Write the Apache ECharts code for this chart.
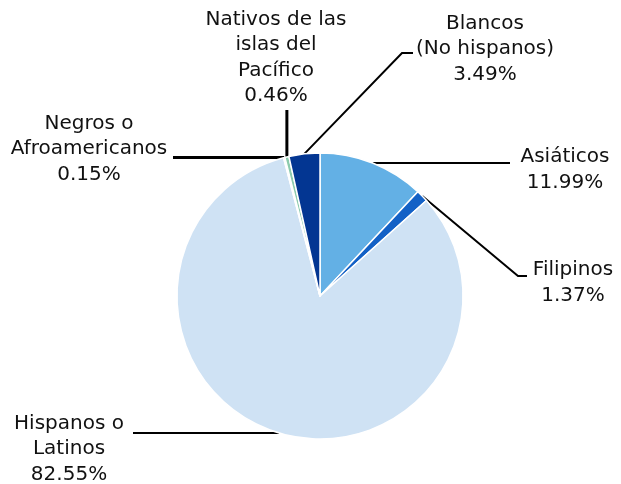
<!DOCTYPE html>
<html>
<head>
<meta charset="utf-8">
<script src="https://cdn.jsdelivr.net/npm/echarts@6/dist/echarts.min.js"></script>
<style>
  html, body { margin: 0; padding: 0; background: #fff; }
  #chart { width: 621px; height: 484px; }
</style>
</head>
<body>
<div id="chart"></div>
<script>
// grupos (en orden, empezando arriba y en sentido horario)
var categorias = [
  'Asiáticos',
  'Filipinos',
  'Hispanos o\nLatinos',
  'Negros o\nAfroamericanos',
  'Nativos de las\nislas del\nPacífico',
  'Blancos\n(No hispanos)'
];
var porcentajes = [11.99, 1.37, 82.55, 0.15, 0.46, 3.49];
var colores = ['#63b0e5', '#1361c6', '#cfe2f4', '#b9dccb', '#8ccbad', '#033692'];

// posicion de cada etiqueta y codo de su linea guia (null = seguir el borde)
var etiquetas = [
  { x: 565, y: 170, codo: [440, null], fin: [510, null], ancho: 2 },
  { x: 573, y: 283, codo: [518, 276], fin: [527, 276], ancho: 2 },
  { x: 69,  y: 449, codo: [200, null], fin: [133, null], ancho: 2 },
  { x: 89,  y: 149, codo: [230, null], fin: [173, null], ancho: 3 },
  { x: 276, y: 58,  codo: [null, 130], fin: [null, 110], ancho: 3 },
  { x: 485, y: 49,  codo: [402, 53],  fin: [413, 53], ancho: 2 }
];

var myChart = echarts.init(document.getElementById('chart'));

myChart.setOption({
  animation: false,
  series: [{
    type: 'pie',
    center: [320, 296],
    radius: 143,
    startAngle: 90,
    clockwise: true,
    avoidLabelOverlap: false,
    itemStyle: {
      borderColor: '#fff',
      borderWidth: 1.5
    },
    label: {
      show: true,
      position: 'outside',
      fontFamily: 'DejaVu Sans',
      fontSize: 20,
      lineHeight: 25.5,
      color: '#111',
      align: 'center',
      formatter: function (p) {
        return p.name + '\n' + p.value.toFixed(2) + '%';
      }
    },
    labelLine: {
      show: true,
      length: 10,
      length2: 10,
      lineStyle: { color: '#000', width: 2 }
    },
    labelLayout: function (params) {
      var e = etiquetas[params.dataIndex];
      var p0 = params.labelLinePoints[0];
      function pt(c) {
        return [c[0] == null ? p0[0] : c[0], c[1] == null ? p0[1] : c[1]];
      }
      return {
        x: e.x,
        y: e.y,
        align: 'center',
        verticalAlign: 'middle',
        labelLinePoints: [p0, pt(e.codo), pt(e.fin)]
      };
    },
    data: categorias.map(function (name, i) {
      return {
        name: name,
        value: porcentajes[i],
        itemStyle: { color: colores[i] },
        labelLine: { lineStyle: { width: etiquetas[i].ancho } }
      };
    })
  }]
});
</script>
</body>
</html>
